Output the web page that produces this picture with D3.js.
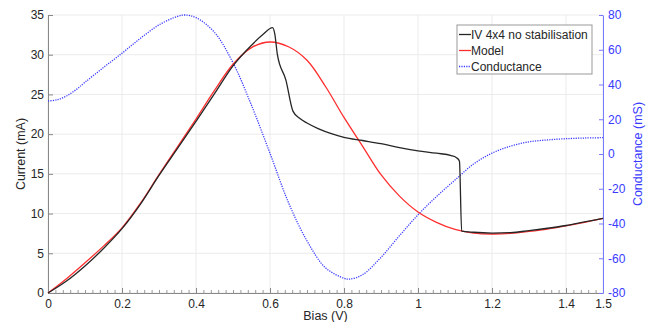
<!DOCTYPE html>
<html>
<head>
<meta charset="utf-8">
<script src="https://cdn.jsdelivr.net/npm/d3@7"></script>
<style>
  body { margin: 0; background: #fff; }
  text { font-family: "Liberation Sans", Arial, sans-serif; }
</style>
</head>
<body>
<div id="chart"></div>
<script>
// bias (V) and current (mA)
const modelBias = [0, 0.05, 0.1, 0.15, 0.2, 0.25, 0.3, 0.35, 0.4, 0.45, 0.5, 0.55, 0.6, 0.65, 0.7, 0.75,
    0.8, 0.85, 0.9, 0.95, 1, 1.05, 1.1, 1.15, 1.2, 1.25, 1.3, 1.35, 1.4, 1.45, 1.5];
const modelCurrent = [0, 1.8, 3.8, 5.9, 8.2, 11.3, 14.9, 18.4, 21.9, 25.5, 28.8, 30.9, 31.6, 31.0, 29.3, 26.0,
    22.1, 18.5, 14.9, 12.2, 10.2, 8.9, 8.0, 7.55, 7.43, 7.5, 7.75, 8.05, 8.45, 8.9, 9.4];

const ivBias = [0, 0.05, 0.1, 0.15, 0.2, 0.25, 0.3, 0.35, 0.4, 0.45, 0.5, 0.55, 0.58, 0.607, 0.613, 0.62,
    0.643, 0.662, 0.68, 0.7, 0.73, 0.77, 0.8, 0.85, 0.9, 0.95, 1, 1.05, 1.09, 1.105, 1.112, 1.118,
    1.15, 1.2, 1.25, 1.3, 1.35, 1.4, 1.45, 1.5];
const ivCurrent = [0, 1.5, 3.4, 5.6, 8.1, 11.2, 14.8, 18.2, 21.6, 25.1, 28.6, 31.2, 32.5, 33.4, 32.6, 30.0,
    26.8, 22.9, 22.0, 21.4, 20.7, 20.0, 19.6, 19.2, 18.8, 18.3, 17.9, 17.6, 17.3, 17.0, 16.6, 7.8,
    7.65, 7.55, 7.6, 7.85, 8.15, 8.5, 8.95, 9.4];

// conductance (mS)
const condBias = [0, 0.025, 0.05, 0.075, 0.1, 0.15, 0.2, 0.25, 0.3, 0.35, 0.37, 0.4, 0.45, 0.5, 0.55, 0.6,
    0.65, 0.7, 0.75, 0.8, 0.815, 0.85, 0.9, 0.95, 1, 1.05, 1.1, 1.15, 1.2, 1.25, 1.3, 1.35, 1.4, 1.45, 1.5];
const condValue = [30.5, 31.2, 33.4, 36.9, 41.3, 49.8, 58, 66.6, 74.3, 79.2, 80, 78.5, 70, 52.5, 28, 0.4,
    -28, -50, -65.5, -71.5, -72, -69.5, -59.5, -47, -35, -24.5, -15, -5.8, 0.5, 4.5, 7, 8.1, 8.8, 9.2, 9.4];

const xTicks = [0, 0.2, 0.4, 0.6, 0.8, 1, 1.2, 1.4, 1.5];
const yTicks = [0, 5, 10, 15, 20, 25, 30, 35];
const gTicks = [-80, -60, -40, -20, 0, 20, 40, 60, 80];
const legendNames = ["IV 4x4 no stabilisation", "Model", "Conductance"];

const W = 665, H = 322;
const margin = {top: 15, right: 62, bottom: 29, left: 48};
const width = W - margin.left - margin.right;
const height = H - margin.top - margin.bottom;

const svg = d3.select("#chart").append("svg")
    .attr("width", W)
    .attr("height", H);
const g = svg.append("g")
    .attr("transform", `translate(${margin.left},${margin.top})`);

const x = d3.scaleLinear().domain([0, 1.5]).range([0, width]);
const y = d3.scaleLinear().domain([0, 35]).range([height, 0]);
const yG = d3.scaleLinear().domain([-80, 80]).range([height, 0]);

// grid
g.append("g").selectAll("line").data(xTicks).enter().append("line")
    .attr("x1", d => x(d)).attr("x2", d => x(d))
    .attr("y1", 0).attr("y2", height)
    .attr("stroke", "#ebebeb");
g.append("g").selectAll("line").data(yTicks).enter().append("line")
    .attr("x1", 0).attr("x2", width)
    .attr("y1", d => y(d)).attr("y2", d => y(d))
    .attr("stroke", "#ebebeb");

const tickColor = "#262626";

// minor ticks on bias axis
g.append("g")
    .attr("transform", `translate(0,${height})`)
    .call(d3.axisBottom(x).tickValues(d3.range(0, 76).map(i => i * 0.02)).tickSize(-3).tickFormat(""))
    .call(a => a.select(".domain").remove())
    .selectAll("line").attr("stroke", "#999");

const xAxis = g.append("g")
    .attr("transform", `translate(0,${height})`)
    .call(d3.axisBottom(x).tickValues(xTicks).tickSize(-5).tickPadding(6).tickSizeOuter(0)
        .tickFormat(d3.format("~g")));
xAxis.select(".domain").attr("stroke", "#888");
xAxis.selectAll("line").attr("stroke", "#888");
xAxis.selectAll("text").attr("font-size", 12).attr("fill", tickColor);

const yAxis = g.append("g")
    .call(d3.axisLeft(y).tickValues(yTicks).tickSize(-5).tickPadding(4).tickSizeOuter(0));
yAxis.select(".domain").attr("stroke", "#888");
yAxis.selectAll("line").attr("stroke", "#888");
yAxis.selectAll("text").attr("font-size", 12).attr("fill", tickColor);

const blue = "#3a3aff";
const gAxis = g.append("g")
    .attr("transform", `translate(${width},0)`)
    .call(d3.axisRight(yG).tickValues(gTicks).tickSize(-4).tickPadding(5).tickSizeOuter(0)
        .tickFormat(d => String(d)));
gAxis.select(".domain").attr("stroke", "#7a7aff");
gAxis.selectAll("line").attr("stroke", "#7a7aff");
gAxis.selectAll("text").attr("font-size", 12).attr("fill", blue);

// curves
const smooth = d3.curveCatmullRom.alpha(0.5);
const lineG = d3.line().x(d => x(d[0])).y(d => yG(d[1])).curve(smooth);

g.append("path")
    .datum(condBias.map((b, i) => [b, condValue[i]]))
    .attr("d", lineG)
    .attr("fill", "none")
    .attr("stroke", blue)
    .attr("stroke-width", 1.3)
    .attr("stroke-dasharray", "1.2,1.2");

g.append("path")
    .datum(modelBias.map((b, i) => [b, modelCurrent[i]]))
    .attr("d", d3.line().x(d => x(d[0])).y(d => y(d[1])).curve(smooth))
    .attr("fill", "none")
    .attr("stroke", "#ff2e2e")
    .attr("stroke-width", 1.3);

g.append("path")
    .datum(ivBias.map((b, i) => [b, ivCurrent[i]]))
    .attr("d", d3.line().x(d => x(d[0])).y(d => y(d[1])).curve(d3.curveMonotoneX))
    .attr("fill", "none")
    .attr("stroke", "#262626")
    .attr("stroke-width", 1.3);

// axis labels
svg.append("text")
    .attr("transform", `translate(25,${margin.top + height / 2}) rotate(-90)`)
    .attr("text-anchor", "middle")
    .attr("font-size", 12.5)
    .attr("fill", tickColor)
    .text("Current (mA)");

svg.append("text")
    .attr("transform", `translate(642,${margin.top + height / 2}) rotate(-90)`)
    .attr("text-anchor", "middle")
    .attr("font-size", 12.5)
    .attr("fill", blue)
    .text("Conductance (mS)");

svg.append("text")
    .attr("x", margin.left + width / 2)
    .attr("y", 320)
    .attr("text-anchor", "middle")
    .attr("font-size", 12.5)
    .attr("fill", tickColor)
    .text("Bias (V)");

// legend
const legend = svg.append("g").attr("transform", "translate(457,25)");
legend.append("rect")
    .attr("width", 135).attr("height", 49)
    .attr("fill", "#fff").attr("stroke", "#999");
const legColors = ["#262626", "#ff2e2e", blue];
const legDash = [null, null, "1.2,1.2"];
legendNames.forEach((name, i) => {
    const row = legend.append("g").attr("transform", `translate(0,${9.5 + i * 16})`);
    row.append("line")
        .attr("x1", 2).attr("x2", 14)
        .attr("stroke", legColors[i]).attr("stroke-width", 1.3)
        .attr("stroke-dasharray", legDash[i]);
    row.append("text")
        .attr("x", 14).attr("y", 4.5)
        .attr("font-size", 12)
        .attr("fill", tickColor)
        .text(name);
});
</script>
</body>
</html>
